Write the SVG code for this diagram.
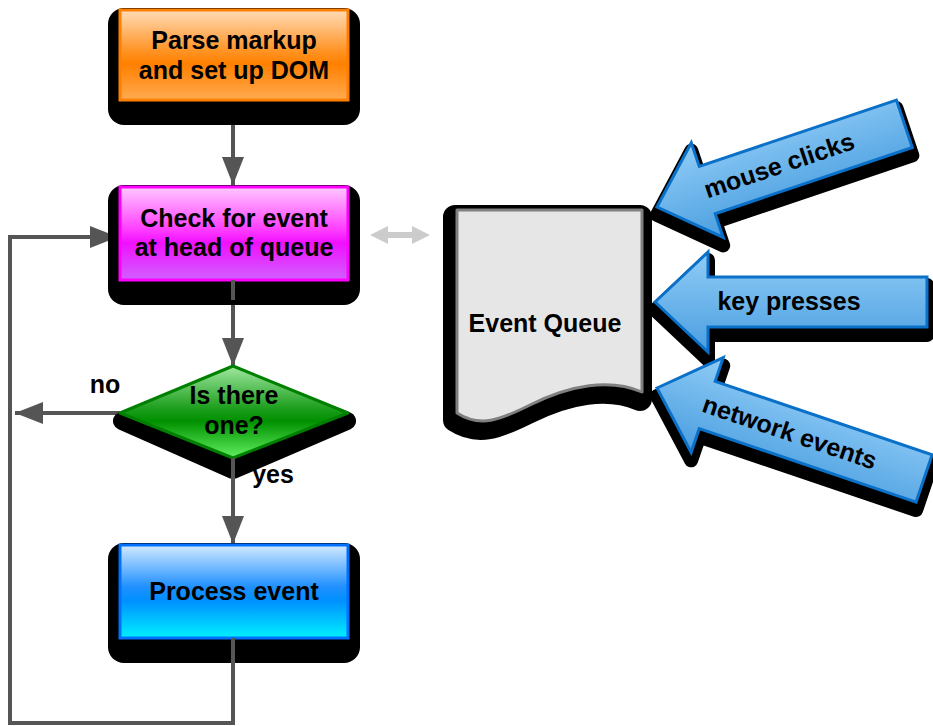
<svg xmlns="http://www.w3.org/2000/svg" width="933" height="726" viewBox="0 0 933 726">
<style>
.t{font-family:"Liberation Sans",Arial,sans-serif;font-weight:bold;font-size:25px;fill:#000;text-anchor:middle}
.conn{fill:none;stroke:#555;stroke-width:4}
.sh{fill:#000;stroke:#000;stroke-linejoin:round}
.arr{stroke:#0a70c8;stroke-width:3;fill:url(#gArr)}
</style>
<defs>
<linearGradient id="gOr" x1="0" y1="0" x2="0" y2="1">
<stop offset="0" stop-color="#ffdcb8"/><stop offset="0.45" stop-color="#ff9426"/><stop offset="0.6" stop-color="#ff8000"/><stop offset="1" stop-color="#ffaa50"/>
</linearGradient>
<linearGradient id="gMa" x1="0" y1="0" x2="0" y2="1">
<stop offset="0" stop-color="#ffc8ff"/><stop offset="0.45" stop-color="#ff40ff"/><stop offset="0.6" stop-color="#f010ff"/><stop offset="1" stop-color="#d060ff"/>
</linearGradient>
<linearGradient id="gBl" x1="0" y1="0" x2="0" y2="1">
<stop offset="0" stop-color="#d4eaff"/><stop offset="0.45" stop-color="#2090ff"/><stop offset="0.6" stop-color="#0090ff"/><stop offset="1" stop-color="#00f0ff"/>
</linearGradient>
<linearGradient id="gGr" x1="0" y1="0" x2="0" y2="1">
<stop offset="0" stop-color="#a0e8a0"/><stop offset="0.45" stop-color="#20a020"/><stop offset="0.6" stop-color="#009000"/><stop offset="1" stop-color="#60f060"/>
</linearGradient>
<linearGradient id="gArr" x1="0" y1="0" x2="0" y2="1" gradientUnits="objectBoundingBox">
<stop offset="0" stop-color="#90ccf6"/><stop offset="1" stop-color="#4a9ee0"/>
</linearGradient>
<marker id="ah" markerUnits="userSpaceOnUse" markerWidth="28" markerHeight="22" refX="28" refY="11" orient="auto">
<path d="M0,0 L28,11 L0,22 Z" fill="#555"/>
</marker>
</defs>

<g id="connectors">
<path class="conn" d="M233,100 V185" marker-end="url(#ah)"/>
<path class="conn" d="M233,280 V366" marker-end="url(#ah)"/>
<path class="conn" d="M233,458 V544" marker-end="url(#ah)"/>
<path class="conn" d="M120,413 H15" marker-end="url(#ah)"/>
<path class="conn" d="M233,638 V723 H10 V237 H118" marker-end="url(#ah)"/>
<path d="M370,235 L388,226 L388,232 L412,232 L412,226 L430,235 L412,244 L412,238 L388,238 L388,244 Z" fill="#cccccc"/>
</g>

<g id="parse">
<rect x="108" y="8" width="252" height="117" rx="16" fill="#000"/>
<rect x="120" y="10" width="228" height="90" fill="url(#gOr)" stroke="#ff8000" stroke-width="3"/>
<text class="t" x="234" y="49">Parse markup</text>
<text class="t" x="234" y="79">and set up DOM</text>
</g>

<g id="check">
<rect x="108" y="185" width="252" height="120" rx="16" fill="#000"/>
<rect x="120" y="187" width="228" height="93" fill="url(#gMa)" stroke="#ff00ff" stroke-width="3"/>
<text class="t" x="234" y="227">Check for event</text>
<text class="t" x="234" y="256">at head of queue</text>
</g>
<path class="conn" d="M233,280 V300"/>

<g id="decision">
<path class="sh" stroke-width="18" d="M122,421 L233,377 L347,421 L233,470 Z"/>
<path d="M120,413 L233,366 L348,413 L233,458 Z" fill="url(#gGr)" stroke="#008000" stroke-width="3" stroke-linejoin="round"/>
<text class="t" x="234" y="404">Is there</text>
<text class="t" x="234" y="434">one?</text>
</g>
<path class="conn" d="M233,458 V480"/>

<g id="process">
<rect x="108" y="543" width="252" height="120" rx="16" fill="#000"/>
<rect x="120" y="545" width="228" height="93" fill="url(#gBl)" stroke="#0070ff" stroke-width="3"/>
<text class="t" x="234" y="600">Process event</text>
</g>
<path class="conn" d="M233,638 V665"/>

<text class="t" x="105" y="393">no</text>
<text class="t" x="273" y="483">yes</text>

<g id="queue">
<path class="sh" stroke-width="24" transform="translate(-2,7)" d="M457,210 L642,210 L642,392 C610,378 570,385 530,405 C500,420 480,428 457,413 Z"/>
<path d="M457,210 L642,210 L642,392 C610,378 570,385 530,405 C500,420 480,428 457,413 Z" fill="#e6e6e6" stroke="#808080" stroke-width="3" stroke-linejoin="round"/>
<text class="t" x="545" y="332">Event Queue</text>
</g>

<g id="mouse">
<g transform="translate(0,8) translate(657,207) rotate(-18.6)"><path class="sh" stroke-width="14" d="M0,0 L53,-50 L53,-25 L261,-25 L261,25 L53,25 L53,50 Z"/></g>
<g transform="translate(657,207) rotate(-18.6)">
<path class="arr" d="M0,0 L53,-50 L53,-25 L261,-25 L261,25 L53,25 L53,50 Z"/>
<text class="t" x="129" y="8">mouse clicks</text>
</g>
</g>

<g id="keys">
<g transform="translate(0,8) translate(655,302)"><path class="sh" stroke-width="14" d="M0,0 L53,-50 L53,-25 L272,-25 L272,25 L53,25 L53,50 Z"/></g>
<g transform="translate(655,302)">
<path class="arr" d="M0,0 L53,-50 L53,-25 L272,-25 L272,25 L53,25 L53,50 Z"/>
<text class="t" x="134" y="8">key presses</text>
</g>
</g>

<g id="network">
<g transform="translate(0,8) translate(657,388) rotate(18.7)"><path class="sh" stroke-width="14" d="M0,0 L53,-50 L53,-25 L282,-25 L282,25 L53,25 L53,50 Z"/></g>
<g transform="translate(657,388) rotate(18.7)">
<path class="arr" d="M0,0 L53,-50 L53,-25 L282,-25 L282,25 L53,25 L53,50 Z"/>
<text class="t" x="140" y="8">network events</text>
</g>
</g>
</svg>
